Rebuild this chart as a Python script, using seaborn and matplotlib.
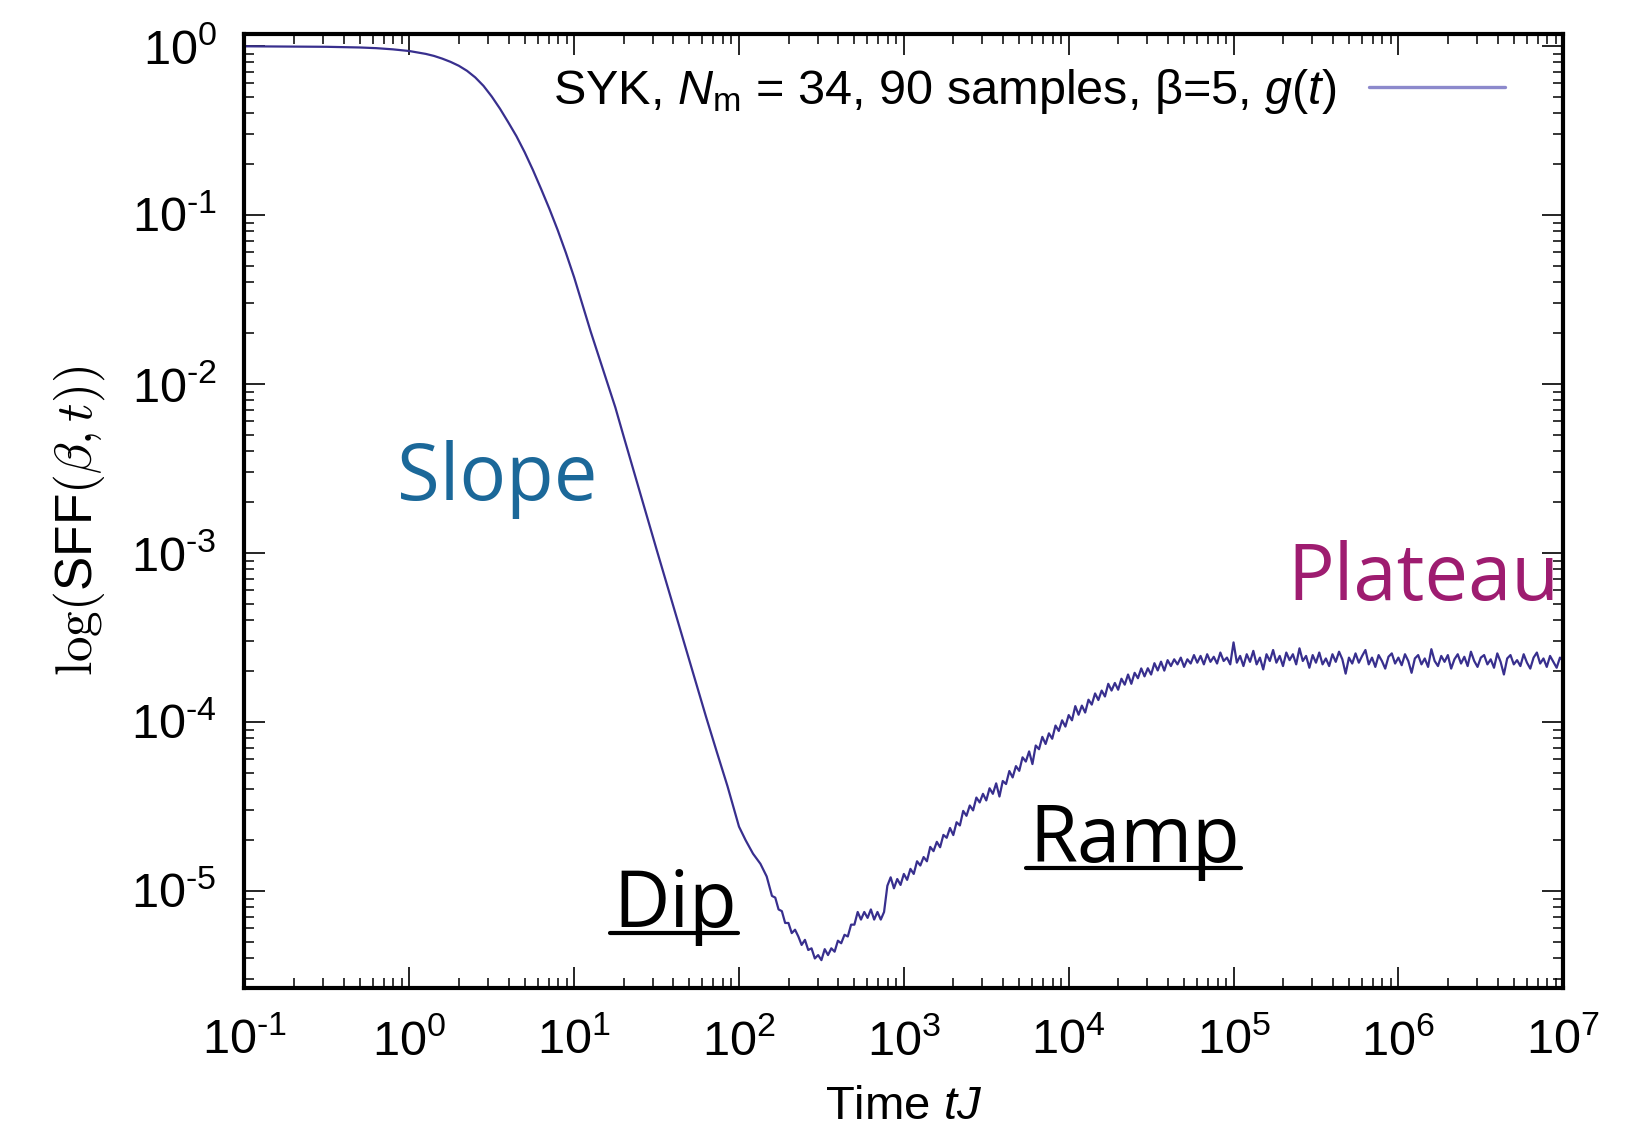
import numpy as np
import pandas as pd
import seaborn as sns
import matplotlib.pyplot as plt
from matplotlib.ticker import LogLocator, FuncFormatter, NullFormatter
from matplotlib.lines import Line2D
from matplotlib.transforms import IdentityTransform

# curve, as log10(tJ) and log10(SFF)
slope_logt = [-1.0, -0.5, -0.3, -0.2, -0.1, 0.0, 0.1, 0.15, 0.2, 0.25, 0.3, 0.35, 0.4,
              0.45, 0.5, 0.55, 0.6, 0.65, 0.7, 0.75, 0.8, 0.85, 0.9, 0.95, 1.0, 1.05,
              1.1, 1.15, 1.2, 1.25, 1.3, 1.4, 1.5, 1.6, 1.7, 1.8, 1.866, 1.93, 2.0,
              2.04, 2.085, 2.13, 2.168]
slope_logv = [-0.003, -0.006, -0.010, -0.014, -0.021, -0.031, -0.048, -0.06, -0.076,
              -0.095, -0.118, -0.148, -0.187, -0.237, -0.30, -0.372, -0.452, -0.535,
              -0.63, -0.735, -0.848, -0.965, -1.09, -1.225, -1.37, -1.53, -1.69, -1.84,
              -1.99, -2.14, -2.31, -2.645, -2.98, -3.31, -3.64, -3.97, -4.18, -4.38,
              -4.62, -4.70, -4.78, -4.84, -4.915]

ramp_logt = [2.20, 2.22, 2.24, 2.26, 2.28, 2.30, 2.32, 2.34, 2.36, 2.38, 2.40, 2.42,
             2.44, 2.46, 2.48, 2.50, 2.52, 2.54, 2.56, 2.58, 2.60, 2.62, 2.64, 2.66,
             2.68, 2.70, 2.72, 2.74, 2.76, 2.78, 2.80, 2.82, 2.84, 2.86, 2.88, 2.90,
             2.92, 2.94, 2.96, 2.98, 3.00, 3.02, 3.04, 3.06, 3.08, 3.10, 3.12, 3.14,
             3.16, 3.18, 3.20, 3.22, 3.24, 3.26, 3.28, 3.30, 3.32, 3.34, 3.36, 3.38,
             3.40, 3.42, 3.44, 3.46, 3.48, 3.50, 3.52, 3.54, 3.56, 3.58, 3.60, 3.62,
             3.64, 3.66, 3.68, 3.70, 3.72, 3.74, 3.76, 3.78, 3.80, 3.82, 3.84, 3.86,
             3.88, 3.90, 3.92, 3.94, 3.96, 3.98, 4.00, 4.02, 4.04, 4.06, 4.08, 4.10,
             4.12, 4.14, 4.16, 4.18, 4.20, 4.22, 4.24, 4.26, 4.28, 4.30, 4.32, 4.34,
             4.36, 4.38, 4.40, 4.42, 4.44, 4.46, 4.48, 4.50, 4.52, 4.54, 4.56, 4.58, 4.60]
ramp_logv = [-5.03, -5.04, -5.11, -5.12, -5.19, -5.19, -5.25, -5.23, -5.27, -5.32, -5.29, -5.35,
             -5.34, -5.40, -5.38, -5.41, -5.345, -5.38, -5.34, -5.36, -5.295, -5.31, -5.26, -5.27,
             -5.20, -5.20, -5.125, -5.17, -5.125, -5.16, -5.11, -5.17, -5.125, -5.17, -5.125, -4.97,
             -4.92, -4.985, -4.93, -4.965, -4.90, -4.935, -4.87, -4.90, -4.825, -4.85, -4.80, -4.825,
             -4.74, -4.765, -4.71, -4.742, -4.669, -4.686, -4.628, -4.67, -4.594, -4.613, -4.527, -4.556,
             -4.495, -4.524, -4.448, -4.477, -4.426, -4.465, -4.393, -4.426, -4.364, -4.442, -4.35, -4.368,
             -4.291, -4.329, -4.262, -4.29, -4.21, -4.235, -4.175, -4.25, -4.14, -4.162, -4.089, -4.131,
             -4.068, -4.10, -4.022, -4.054, -3.991, -4.028, -3.96, -3.991, -3.907, -3.958, -3.904, -3.945,
             -3.869, -3.898, -3.832, -3.871, -3.815, -3.85, -3.775, -3.815, -3.77, -3.81, -3.745, -3.78,
             -3.72, -3.775, -3.71, -3.742, -3.684, -3.731, -3.683, -3.72, -3.653, -3.696, -3.644, -3.697, -3.635]

plateau_logt = [4.62, 4.64, 4.66, 4.68, 4.70, 4.72, 4.74, 4.76, 4.78, 4.80, 4.82, 4.84,
                4.86, 4.88, 4.90, 4.92, 4.94, 4.96, 4.98, 5.00, 5.02, 5.04, 5.06, 5.08,
                5.10, 5.12, 5.14, 5.16, 5.18, 5.20, 5.22, 5.24, 5.26, 5.28, 5.30, 5.32,
                5.34, 5.36, 5.38, 5.40, 5.42, 5.44, 5.46, 5.48, 5.50, 5.52, 5.54, 5.56,
                5.58, 5.60, 5.62, 5.64, 5.66, 5.68, 5.70, 5.72, 5.74, 5.76, 5.78, 5.80,
                5.82, 5.84, 5.86, 5.88, 5.90, 5.92, 5.94, 5.96, 5.98, 6.00, 6.02, 6.04,
                6.06, 6.08, 6.10, 6.12, 6.14, 6.16, 6.18, 6.20, 6.22, 6.24, 6.26, 6.28,
                6.30, 6.32, 6.34, 6.36, 6.38, 6.40, 6.42, 6.44, 6.46, 6.48, 6.50, 6.52,
                6.54, 6.56, 6.58, 6.60, 6.62, 6.64, 6.66, 6.68, 6.70, 6.72, 6.74, 6.76,
                6.78, 6.80, 6.82, 6.84, 6.86, 6.88, 6.90, 6.92, 6.94, 6.96, 6.98, 7.00]
plateau_logv = [-3.67, -3.63, -3.66, -3.62, -3.675, -3.63, -3.655, -3.605, -3.65, -3.61, -3.66, -3.60,
                -3.645, -3.615, -3.655, -3.59, -3.64, -3.62, -3.66, -3.53, -3.65, -3.61, -3.67, -3.60,
                -3.645, -3.58, -3.66, -3.62, -3.69, -3.60, -3.64, -3.575, -3.65, -3.61, -3.67, -3.59,
                -3.635, -3.60, -3.66, -3.565, -3.64, -3.61, -3.68, -3.605, -3.65, -3.59, -3.66, -3.625,
                -3.67, -3.60, -3.645, -3.585, -3.63, -3.715, -3.62, -3.655, -3.595, -3.65, -3.61, -3.575,
                -3.66, -3.62, -3.675, -3.605, -3.64, -3.685, -3.615, -3.595, -3.655, -3.62, -3.665, -3.60,
                -3.64, -3.71, -3.625, -3.605, -3.66, -3.625, -3.675, -3.57, -3.64, -3.67, -3.61, -3.645,
                -3.605, -3.685, -3.63, -3.60, -3.655, -3.615, -3.67, -3.585, -3.64, -3.675, -3.62, -3.605,
                -3.66, -3.63, -3.68, -3.595, -3.645, -3.72, -3.625, -3.605, -3.66, -3.635, -3.67, -3.60,
                -3.65, -3.685, -3.62, -3.59, -3.655, -3.625, -3.675, -3.61, -3.645, -3.68, -3.62, -3.64]

legend_label = r"SYK, $N_{\mathrm{m}}$ = 34, 90 samples, β=5, $g(t)$"
xlabel = r"Time $tJ$"
ylabel = r"$\log(\mathregular{SFF}(\beta,t))$"

sns.set_theme(style="ticks")
plt.rcParams["font.family"] = ["Liberation Sans", "DejaVu Sans"]
plt.rcParams["mathtext.fontset"] = "custom"
plt.rcParams["mathtext.rm"] = "Liberation Sans"
plt.rcParams["mathtext.it"] = "Liberation Sans:italic"
plt.rcParams["mathtext.bf"] = "Liberation Sans:bold"
for key in ("text.color", "axes.labelcolor", "xtick.color", "ytick.color", "axes.edgecolor"):
    plt.rcParams[key] = "black"

assert len(slope_logt) == len(slope_logv)
assert len(ramp_logt) == len(ramp_logv)
assert len(plateau_logt) == len(plateau_logv)
logt = slope_logt + ramp_logt + plateau_logt
logv = slope_logv + ramp_logv + plateau_logv
df = pd.DataFrame({"t": np.power(10.0, logt), "sff": np.power(10.0, logv)})

fig = plt.figure(figsize=(16.45, 11.29), dpi=100)
ax = fig.add_axes([0.1486, 0.1246, 0.8017, 0.8456])

sns.lineplot(data=df, x="t", y="sff", ax=ax, color="#382f8e", linewidth=1.6,
             label=legend_label, estimator=None, sort=False)
ax.set_xscale("log")
ax.set_yscale("log")
ax.set_xlim(1e-1, 1e7)
ax.set_ylim(2.65e-6, 1.18)


def pow10(v, pos):
    e = int(round(np.log10(v)))
    s = str(e).replace("-", r"\text{-}")
    return r"$\mathregular{10^{%s}}$" % s


for axis in (ax.xaxis, ax.yaxis):
    axis.set_major_locator(LogLocator(base=10, numticks=20))
    axis.set_minor_locator(LogLocator(base=10, subs=np.arange(2, 10), numticks=20))
    axis.set_major_formatter(FuncFormatter(pow10))
    axis.set_minor_formatter(NullFormatter())

ax.tick_params(which="both", direction="in", top=True, right=True, colors="black",
               labelsize=35)
ax.tick_params(which="major", length=15, width=1.2)
ax.tick_params(which="minor", length=7.5, width=1.1)
ax.tick_params(axis="x", which="major", pad=22)
ax.tick_params(axis="y", which="major", pad=20)
for sp in ax.spines.values():
    sp.set_linewidth(3)
    sp.set_color("black")

ax.set_xlabel(xlabel, fontsize=34)
ax.xaxis.set_label_coords(0.5, -0.101)
ax.set_ylabel(ylabel, fontsize=37, math_fontfamily="cm")
ax.yaxis.set_label_coords(-0.104, 0.49)

leg = ax.legend(loc="center right", bbox_to_anchor=(0.9558, 0.9399), frameon=False,
                markerfirst=False, handlelength=2.8, handletextpad=0.66, borderpad=0,
                borderaxespad=0, fontsize=35)
leg.get_lines()[0].set_color("#8c89cc")
leg.get_lines()[0].set_linewidth(2.4)

# region labels
lab = dict(transform=ax.transAxes, family="Open Sans", fontsize=56, va="baseline")
ax.text(0.116, 0.5115, "Slope", color="#1b6899", **lab)
ax.text(0.7905, 0.4067, "Plateau", color="#9e1c70", **lab)
dip = ax.text(0.2796, 0.0642, "Dip", color="black", **lab)
ramp = ax.text(0.595, 0.1326, "Ramp", color="black", **lab)

fig.canvas.draw()
renderer = fig.canvas.get_renderer()
for t in (dip, ramp):
    bb = t.get_window_extent(renderer)
    _, yb = ax.transAxes.transform(t.get_position())
    fig.add_artist(Line2D([bb.x0 - 3, bb.x1 + 1], [yb - 6, yb - 6], color="black",
                          linewidth=3, transform=IdentityTransform()))

fig.savefig("out.png", dpi=100)
